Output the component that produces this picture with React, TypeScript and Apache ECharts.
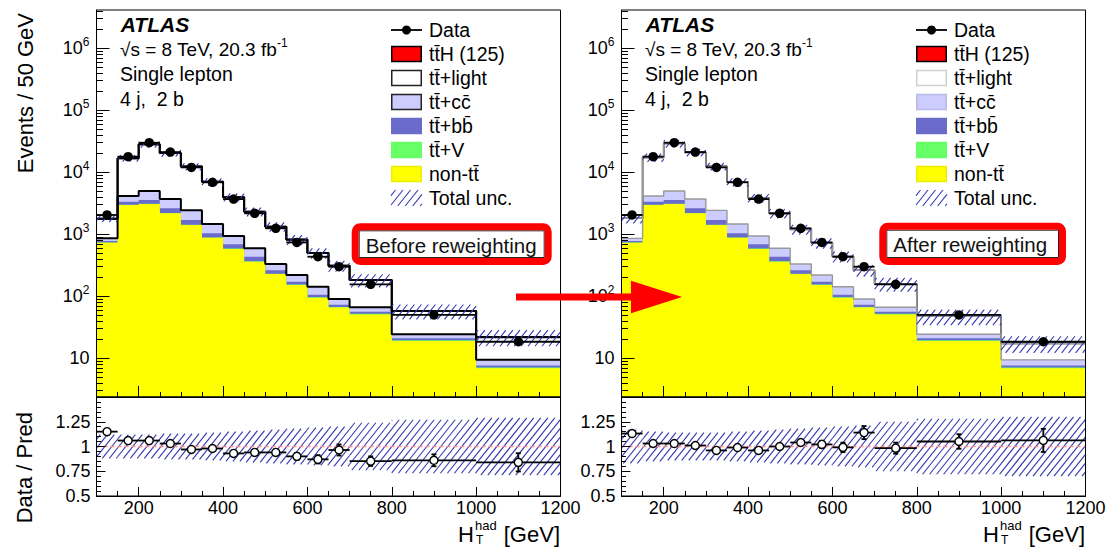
import React, { useEffect, useRef } from 'react';
import * as echarts from 'echarts';

const FONT = '"Liberation Sans", Arial, Helvetica, sans-serif';

// ---- data (Events / 50 GeV) ----
const binEdges = [100, 150, 200, 250, 300, 350, 400, 450, 500, 550, 600, 650, 700, 800, 1000, 1200];
const dataEvents = [2050, 17900, 30000, 21200, 12000, 6900, 3700, 2180, 1250, 740, 435, 300, 156, 50, 18.5];
const dataRelErr = [0.02, 0.008, 0.006, 0.007, 0.009, 0.012, 0.016, 0.021, 0.028, 0.037, 0.048, 0.058, 0.057, 0.07, 0.11];
const nonTT = [733, 2970, 3080, 2180, 1410, 880, 580, 361, 228, 152, 95, 66, 51, 19, 6.9];
const ttV = [5, 25, 30, 24, 17, 12, 8, 5.5, 3.8, 2.8, 2, 1.5, 1.2, 0.5, 0.2];
const ttbb = [42, 362, 465, 420, 275, 150, 102, 68, 32, 17, 9, 5.5, 4, 1.5, 0.55];
const ttcc = [81, 790, 1415, 1085, 735, 425, 250, 160, 68, 49, 37, 17.5, 10.5, 3.4, 1.8];
const ttLightBefore = [920, 12730, 23300, 16860, 9925, 5570, 3035, 1722, 996, 600, 356, 220, 116, 33.5, 12.5];
const ttLightAfter = [950, 13220, 24120, 17270, 10050, 5500, 2910, 1583, 868, 503, 295, 172, 91.5, 23, 7.9];
const ttH = [1.5, 9, 13, 11, 8, 5.5, 3.5, 2.5, 1.6, 1.1, 0.8, 0.55, 0.45, 0.2, 0.08];
const uncBefore = [0.12, 0.12, 0.12, 0.13, 0.13, 0.14, 0.15, 0.16, 0.17, 0.18, 0.19, 0.2, 0.24, 0.27, 0.29];
const uncAfter = [0.17, 0.15, 0.14, 0.14, 0.14, 0.15, 0.16, 0.17, 0.18, 0.19, 0.2, 0.21, 0.25, 0.28, 0.3];

// ---- ticks ----
const xMajorTicks = [200, 400, 600, 800, 1000, 1200];
const xMinorTicks = [150, 250, 300, 350, 450, 500, 550, 650, 700, 750, 850, 900, 950, 1050, 1100, 1150];
const yMajorTicks = [10, 100, 1000, 10000, 100000, 1000000];
const yMinorTicks: number[] = [];
for (let d = 1; d <= 1e6; d *= 10) for (let m = 2; m <= 9; m++) yMinorTicks.push(m * d);

const Y_MIN = 2.376;
const Y_MAX = 4.15e6;

const C = {
  nonTT: '#ffff00', ttV: '#66ff66', ttbb: '#6b6bcc', ttcc: '#ccccff', light: '#ffffff', ttH: '#ff0000',
  hatch: '#3535b0',
};

const PANELS = [
  { x: 96.5, light: ttLightBefore, unc: uncBefore, outline: '#000000', outlineW: 2, legLight: '#222', legCc: '#222',
    tag: 'Before reweighting', tagBox: [351.7, 223.3, 200, 41.7] },
  { x: 621.5, light: ttLightAfter, unc: uncAfter, outline: '#999999', outlineW: 1.4, legLight: '#cfcfcf', legCc: '#b9b9e6',
    tag: 'After reweighting', tagBox: [879.3, 222.7, 186.7, 42.3] },
];
const GW = 464;
const MAIN_TOP = 10, MAIN_H = 387, RATIO_TOP = 397, RATIO_H = 99;

function hatchLines(xa: number, xb: number, ya: number, yb: number, spacing: number, slope: number, style: any) {
  const out: any[] = [];
  const step = spacing * slope;
  const cMin = slope * xa + ya;
  const cMax = slope * xb + yb;
  for (let k = Math.ceil(cMin / step); k * step <= cMax; k++) {
    const c = k * step;
    const xs = Math.max(xa, (c - yb) / slope);
    const xe = Math.min(xb, (c - ya) / slope);
    if (xe > xs + 0.2) out.push({ type: 'line', shape: { x1: xs, y1: c - slope * xs, x2: xe, y2: c - slope * xe }, style });
  }
  return out;
}

const hatchStyle = { stroke: C.hatch, lineWidth: 1.1 };

function stepData(vals: number[]) {
  return binEdges.map((e, i) => [e, vals[Math.min(i, vals.length - 1)]]);
}

function bandSeries(xi: number, yi: number, items: number[][]) {
  return {
    type: 'custom', xAxisIndex: xi, yAxisIndex: yi, z: 3, silent: true,
    encode: { x: [0, 1], y: [2, 3] },
    data: items,
    renderItem: (params: any, api: any) => {
      const a = api.coord([api.value(0), api.value(3)]);
      const b = api.coord([api.value(1), api.value(2)]);
      const cs = params.coordSys;
      const ya = Math.max(a[1], cs.y), yb = Math.min(b[1], cs.y + cs.height);
      return { type: 'group', children: hatchLines(a[0], b[0], ya, yb, 7, 1.25, hatchStyle) };
    },
  };
}

function barsSeries(xi: number, yi: number, items: number[][], caps: boolean) {
  return {
    type: 'custom', xAxisIndex: xi, yAxisIndex: yi, z: 5, silent: true,
    encode: { x: [0, 1], y: [2] },
    data: items,
    renderItem: (params: any, api: any) => {
      const x0 = api.value(0), x1 = api.value(1), y = api.value(2), e = api.value(3);
      const xc = (x0 + x1) / 2;
      const a = api.coord([x0, y]), b = api.coord([x1, y]);
      const t = api.coord([xc, y + e]), bt = api.coord([xc, y - e]);
      const st = { stroke: '#000', lineWidth: 1.8 };
      const ch: any[] = [
        { type: 'line', shape: { x1: a[0], y1: a[1], x2: b[0], y2: b[1] }, style: st },
        { type: 'line', shape: { x1: t[0], y1: t[1], x2: bt[0], y2: bt[1] }, style: st },
      ];
      if (caps && Math.abs(bt[1] - t[1]) > 6) {
        ch.push({ type: 'line', shape: { x1: t[0] - 2.5, y1: t[1], x2: t[0] + 2.5, y2: t[1] }, style: st });
        ch.push({ type: 'line', shape: { x1: bt[0] - 2.5, y1: bt[1], x2: bt[0] + 2.5, y2: bt[1] }, style: st });
      }
      return { type: 'group', children: ch };
    },
  };
}

function text(x: number, y: number, s: string, size: number, extra: any = {}, z = 100) {
  return {
    type: 'text', x, y, z,
    style: { text: s, fontSize: size, fontFamily: FONT, fill: '#000', align: 'left', verticalAlign: 'middle', ...extra },
  };
}

function buildOption() {
  const grid: any[] = [];
  const xAxis: any[] = [];
  const yAxis: any[] = [];
  const series: any[] = [];
  const graphic: any[] = [];

  PANELS.forEach((p) => {
    grid.push({ left: p.x, top: MAIN_TOP, width: GW, height: MAIN_H });
    grid.push({ left: p.x, top: RATIO_TOP, width: GW, height: RATIO_H });
  });
  grid.forEach((g) => Object.assign(g, { show: true, borderColor: '#000', borderWidth: 1, backgroundColor: 'transparent', z: 10, containLabel: false, outerBoundsMode: 'none' }));

  // major x axes 0..3
  for (let g = 0; g < 4; g++) {
    const ratio = g % 2 === 1;
    xAxis.push({
      gridIndex: g, type: 'value', min: 100, max: 1200, position: 'bottom', z: 20,
      axisLine: { show: true, onZero: false, lineStyle: { color: '#000', width: 1 } },
      axisTick: { show: true, inside: true, length: ratio ? 9 : 11, customValues: xMajorTicks, lineStyle: { color: '#000', width: 1 } },
      axisLabel: { show: ratio, customValues: xMajorTicks, fontSize: 18, fontFamily: FONT, color: '#000', margin: 3,
        formatter: (v: number) => String(v) },
      splitLine: { show: false },
    });
  }
  // minor x axes 4..7
  for (let g = 0; g < 4; g++) {
    xAxis.push({
      gridIndex: g, type: 'value', min: 100, max: 1200, position: 'bottom', z: 20,
      axisLine: { show: false, onZero: false },
      axisTick: { show: true, inside: true, length: 5, customValues: xMinorTicks, lineStyle: { color: '#000', width: 1 } },
      axisLabel: { show: false },
      splitLine: { show: false },
    });
  }
  // major y axes 0..3
  for (let g = 0; g < 4; g++) {
    const ratio = g % 2 === 1;
    if (!ratio) {
      yAxis.push({
        gridIndex: g, type: 'log', logBase: 10, min: Y_MIN, max: Y_MAX, position: 'left', z: 20,
        axisLine: { show: true, onZero: false, lineStyle: { color: '#000', width: 1 } },
        axisTick: { show: true, inside: true, length: 13, customValues: yMajorTicks, lineStyle: { color: '#000', width: 1 } },
        axisLabel: {
          show: true, customValues: yMajorTicks, margin: 7,
          formatter: (v: number) => {
            const e = Math.round(Math.log10(v));
            return e === 1 ? '{b|10}' : '{b|10}{s|' + e + '}';
          },
          rich: {
            b: { fontSize: 18, fontFamily: FONT, color: '#000', lineHeight: 24 },
            s: { fontSize: 12, fontFamily: FONT, color: '#000', lineHeight: 12, verticalAlign: 'top' },
          },
        },
        splitLine: { show: false },
      });
    } else {
      yAxis.push({
        gridIndex: g, type: 'value', min: 0.5, max: 1.5, interval: 0.25, position: 'left', z: 20,
        axisLine: { show: true, onZero: false, lineStyle: { color: '#000', width: 1 } },
        axisTick: { show: true, inside: true, length: 9, lineStyle: { color: '#000', width: 1 } },
        minorTick: { show: true, splitNumber: 5, length: 4.5, lineStyle: { color: '#000', width: 1 } },
        axisLabel: {
          show: true, margin: 6, fontSize: 18, fontFamily: FONT, color: '#000',
          formatter: (v: number) => (v > 1.4 ? '' : String(v)),
        },
        splitLine: { show: false },
        minorSplitLine: { show: false },
      });
    }
  }
  // minor log axes 4 (grid 0), 5 (grid 2)
  [0, 2].forEach((g) => {
    yAxis.push({
      gridIndex: g, type: 'log', logBase: 10, min: Y_MIN, max: Y_MAX, position: 'left', z: 20,
      axisLine: { show: false, onZero: false },
      axisTick: { show: true, inside: true, length: 6.5, customValues: yMinorTicks, lineStyle: { color: '#000', width: 1 } },
      axisLabel: { show: false },
      splitLine: { show: false },
    });
  });

  PANELS.forEach((p, pi) => {
    const mi = pi * 2;
    const ri = pi * 2 + 1;
    const comps = [
      { vals: nonTT, color: C.nonTT, line: null as any, lw: 0 },
      { vals: ttV, color: C.ttV, line: null, lw: 0 },
      { vals: ttbb, color: C.ttbb, line: null, lw: 0 },
      { vals: ttcc, color: C.ttcc, line: p.outline, lw: p.outlineW },
      { vals: p.light, color: C.light, line: p.outline, lw: p.outlineW },
      { vals: ttH, color: C.ttH, line: '#000', lw: pi === 0 ? 2 : 1.6 },
    ];
    // cumulative sums (stack), drawn from the top layer downwards
    const cum: number[][] = [];
    comps.forEach((c, k) => cum.push(c.vals.map((v, i) => v + (k > 0 ? cum[k - 1][i] : 0))));
    for (let k = comps.length - 1; k >= 0; k--) {
      const c = comps[k];
      series.push({
        type: 'line', xAxisIndex: mi, yAxisIndex: mi, step: 'end', symbol: 'none', silent: true, z: 2,
        data: stepData(cum[k]),
        areaStyle: { color: c.color, opacity: 1, origin: 'start' },
        lineStyle: c.line ? { color: c.line, width: c.lw } : { width: 0, opacity: 0 },
      });
    }

    const pred = cum[comps.length - 1];
    const bins = dataEvents.map((_, i) => [binEdges[i], binEdges[i + 1]]);

    // main panel band
    series.push(bandSeries(mi, mi, bins.map((b, i) => [b[0], b[1], pred[i] * (1 - p.unc[i]), pred[i] * (1 + p.unc[i])])));
    // main data
    series.push(barsSeries(mi, mi, bins.map((b, i) => [b[0], b[1], dataEvents[i], dataEvents[i] * dataRelErr[i]]), false));
    series.push({
      type: 'scatter', xAxisIndex: mi, yAxisIndex: mi, z: 6, silent: true, symbol: 'circle', symbolSize: 9.5,
      itemStyle: { color: '#000', opacity: 1 },
      data: bins.map((b, i) => [(b[0] + b[1]) / 2, dataEvents[i]]),
    });

    // ratio panel
    series.push(bandSeries(ri, ri, bins.map((b, i) => [b[0], b[1], 1 - p.unc[i], 1 + p.unc[i]])));
    series.push({
      type: 'line', xAxisIndex: ri, yAxisIndex: ri, z: 4, silent: true, symbol: 'none',
      data: [[100, 1], [1200, 1]],
      lineStyle: { color: '#ff8c8c', width: 1.5, type: [4, 3] },
    });
    const ratio = dataEvents.map((d, i) => d / pred[i]);
    series.push(barsSeries(ri, ri, bins.map((b, i) => [b[0], b[1], ratio[i], ratio[i] * dataRelErr[i]]), true));
    series.push({
      type: 'scatter', xAxisIndex: ri, yAxisIndex: ri, z: 6, silent: true, symbol: 'circle', symbolSize: 8,
      itemStyle: { color: '#ffffff', borderColor: '#000', borderWidth: 1.4, opacity: 1 },
      data: bins.map((b, i) => [(b[0] + b[1]) / 2, ratio[i]]),
    });

    // ---- texts ----
    const ox = p.x - 96.5;
    graphic.push(text(120.7 + ox, 24, 'ATLAS', 21, { fontWeight: 'bold', fontStyle: 'italic' }));
    graphic.push(text(120 + ox, 49, '{n|√s = 8 TeV, 20.3 fb}{s|-1}', 19, {
      rich: {
        n: { fontSize: 19, fontFamily: FONT, fill: '#000', lineHeight: 24 },
        s: { fontSize: 12, fontFamily: FONT, fill: '#000', lineHeight: 12, verticalAlign: 'top' },
      },
    }));
    graphic.push(text(120 + ox, 74, 'Single lepton', 19.5));
    graphic.push(text(120 + ox, 99, '4 j,  2 b', 19.5));

    // legend
    const bx = p.x + 294.5;
    const tx = p.x + 332.5;
    const rowY = (i: number) => 30 + 24 * i;
    const labels = ['Data', 'tt\u0304H (125)', 'tt\u0304+light', 'tt\u0304+cc\u0304', 'tt\u0304+bb\u0304', 'tt\u0304+V', 'non-tt\u0304', 'Total unc.'];
    labels.forEach((l, i) => graphic.push(text(tx, rowY(i), l, 19.5)));
    graphic.push({ type: 'line', z: 100, shape: { x1: bx, y1: rowY(0), x2: bx + 31, y2: rowY(0) }, style: { stroke: '#000', lineWidth: 1.8 } });
    graphic.push({ type: 'line', z: 100, shape: { x1: bx + 15.5, y1: rowY(0) - 4, x2: bx + 15.5, y2: rowY(0) + 4 }, style: { stroke: '#000', lineWidth: 1.8 } });
    graphic.push({ type: 'circle', z: 101, shape: { cx: bx + 15.5, cy: rowY(0), r: 4.5 }, style: { fill: '#000' } });
    const boxes = [
      { i: 1, fill: C.ttH, stroke: '#000' },
      { i: 2, fill: C.light, stroke: p.legLight },
      { i: 3, fill: C.ttcc, stroke: p.legCc },
      { i: 4, fill: C.ttbb, stroke: C.ttbb },
      { i: 5, fill: C.ttV, stroke: C.ttV },
      { i: 6, fill: C.nonTT, stroke: '#eded00' },
    ];
    boxes.forEach((b) => graphic.push({
      type: 'rect', z: 100, shape: { x: bx + 0.75, y: rowY(b.i) - 7.5, width: 29.5, height: 15 },
      style: { fill: b.fill, stroke: b.stroke, lineWidth: 1.5 },
    }));
    graphic.push({ type: 'group', z: 100, children: hatchLines(bx, bx + 31, rowY(7) - 8, rowY(7) + 8, 7.5, 1.25, hatchStyle).map((c) => ({ ...c, z: 100 })) });

    // axis titles
    if (pi === 0) {
      graphic.push({ type: 'text', x: 25, y: 13, rotation: Math.PI / 2, z: 100,
        style: { text: 'Events / 50 GeV', fontSize: 22, fontFamily: FONT, fill: '#000', align: 'right', verticalAlign: 'middle' } });
      graphic.push({ type: 'text', x: 24, y: 412, rotation: Math.PI / 2, z: 100,
        style: { text: 'Data / Pred', fontSize: 22, fontFamily: FONT, fill: '#000', align: 'right', verticalAlign: 'middle' } });
    }
    graphic.push(text(458 + ox, 534, 'H', 22));
    graphic.push(text(475 + ox, 525, 'had', 13));
    graphic.push(text(476 + ox, 539.5, 'T', 12));
    graphic.push(text(560 + ox, 534, '[GeV]', 22, { align: 'right' }));

    // tag box
    const [tx0, ty0, tw, th] = p.tagBox;
    graphic.push({ type: 'rect', z: 110, shape: { x: tx0 + 7.5, y: ty0 + 7.5, width: tw - 15, height: th - 15 }, style: { fill: '#fff', stroke: '#222', lineWidth: 1 } });
    graphic.push({ type: 'rect', z: 111, shape: { x: tx0 + 3.5, y: ty0 + 3.5, width: tw - 7, height: th - 7, r: 5 }, style: { fill: 'none', stroke: '#ff0000', lineWidth: 7 } });
    graphic.push(text(tx0 + 14, ty0 + th / 2 + 1, p.tag, 20.5, { fill: '#111' }, 112));
  });

  // red arrow
  graphic.push({ type: 'line', z: 120, shape: { x1: 516, y1: 297, x2: 633, y2: 297 }, style: { stroke: '#ff0000', lineWidth: 7 } });
  graphic.push({ type: 'polygon', z: 120, shape: { points: [[631, 280.7], [631, 313.3], [682, 297]] }, style: { fill: '#ff0000' } });

  return {
    animation: false,
    backgroundColor: '#ffffff',
    textStyle: { fontFamily: FONT },
    grid, xAxis, yAxis, series, graphic,
  };
}

export default function App() {
  const ref = useRef<HTMLDivElement>(null);
  useEffect(() => {
    const chart = echarts.init(ref.current as HTMLDivElement, null, { renderer: 'svg', width: 1109, height: 547 });
    chart.setOption(buildOption() as any);
    return () => chart.dispose();
  }, []);
  return <div ref={ref} style={{ position: 'fixed', left: 0, top: 0, width: 1109, height: 547, background: '#fff' }} />;
}
